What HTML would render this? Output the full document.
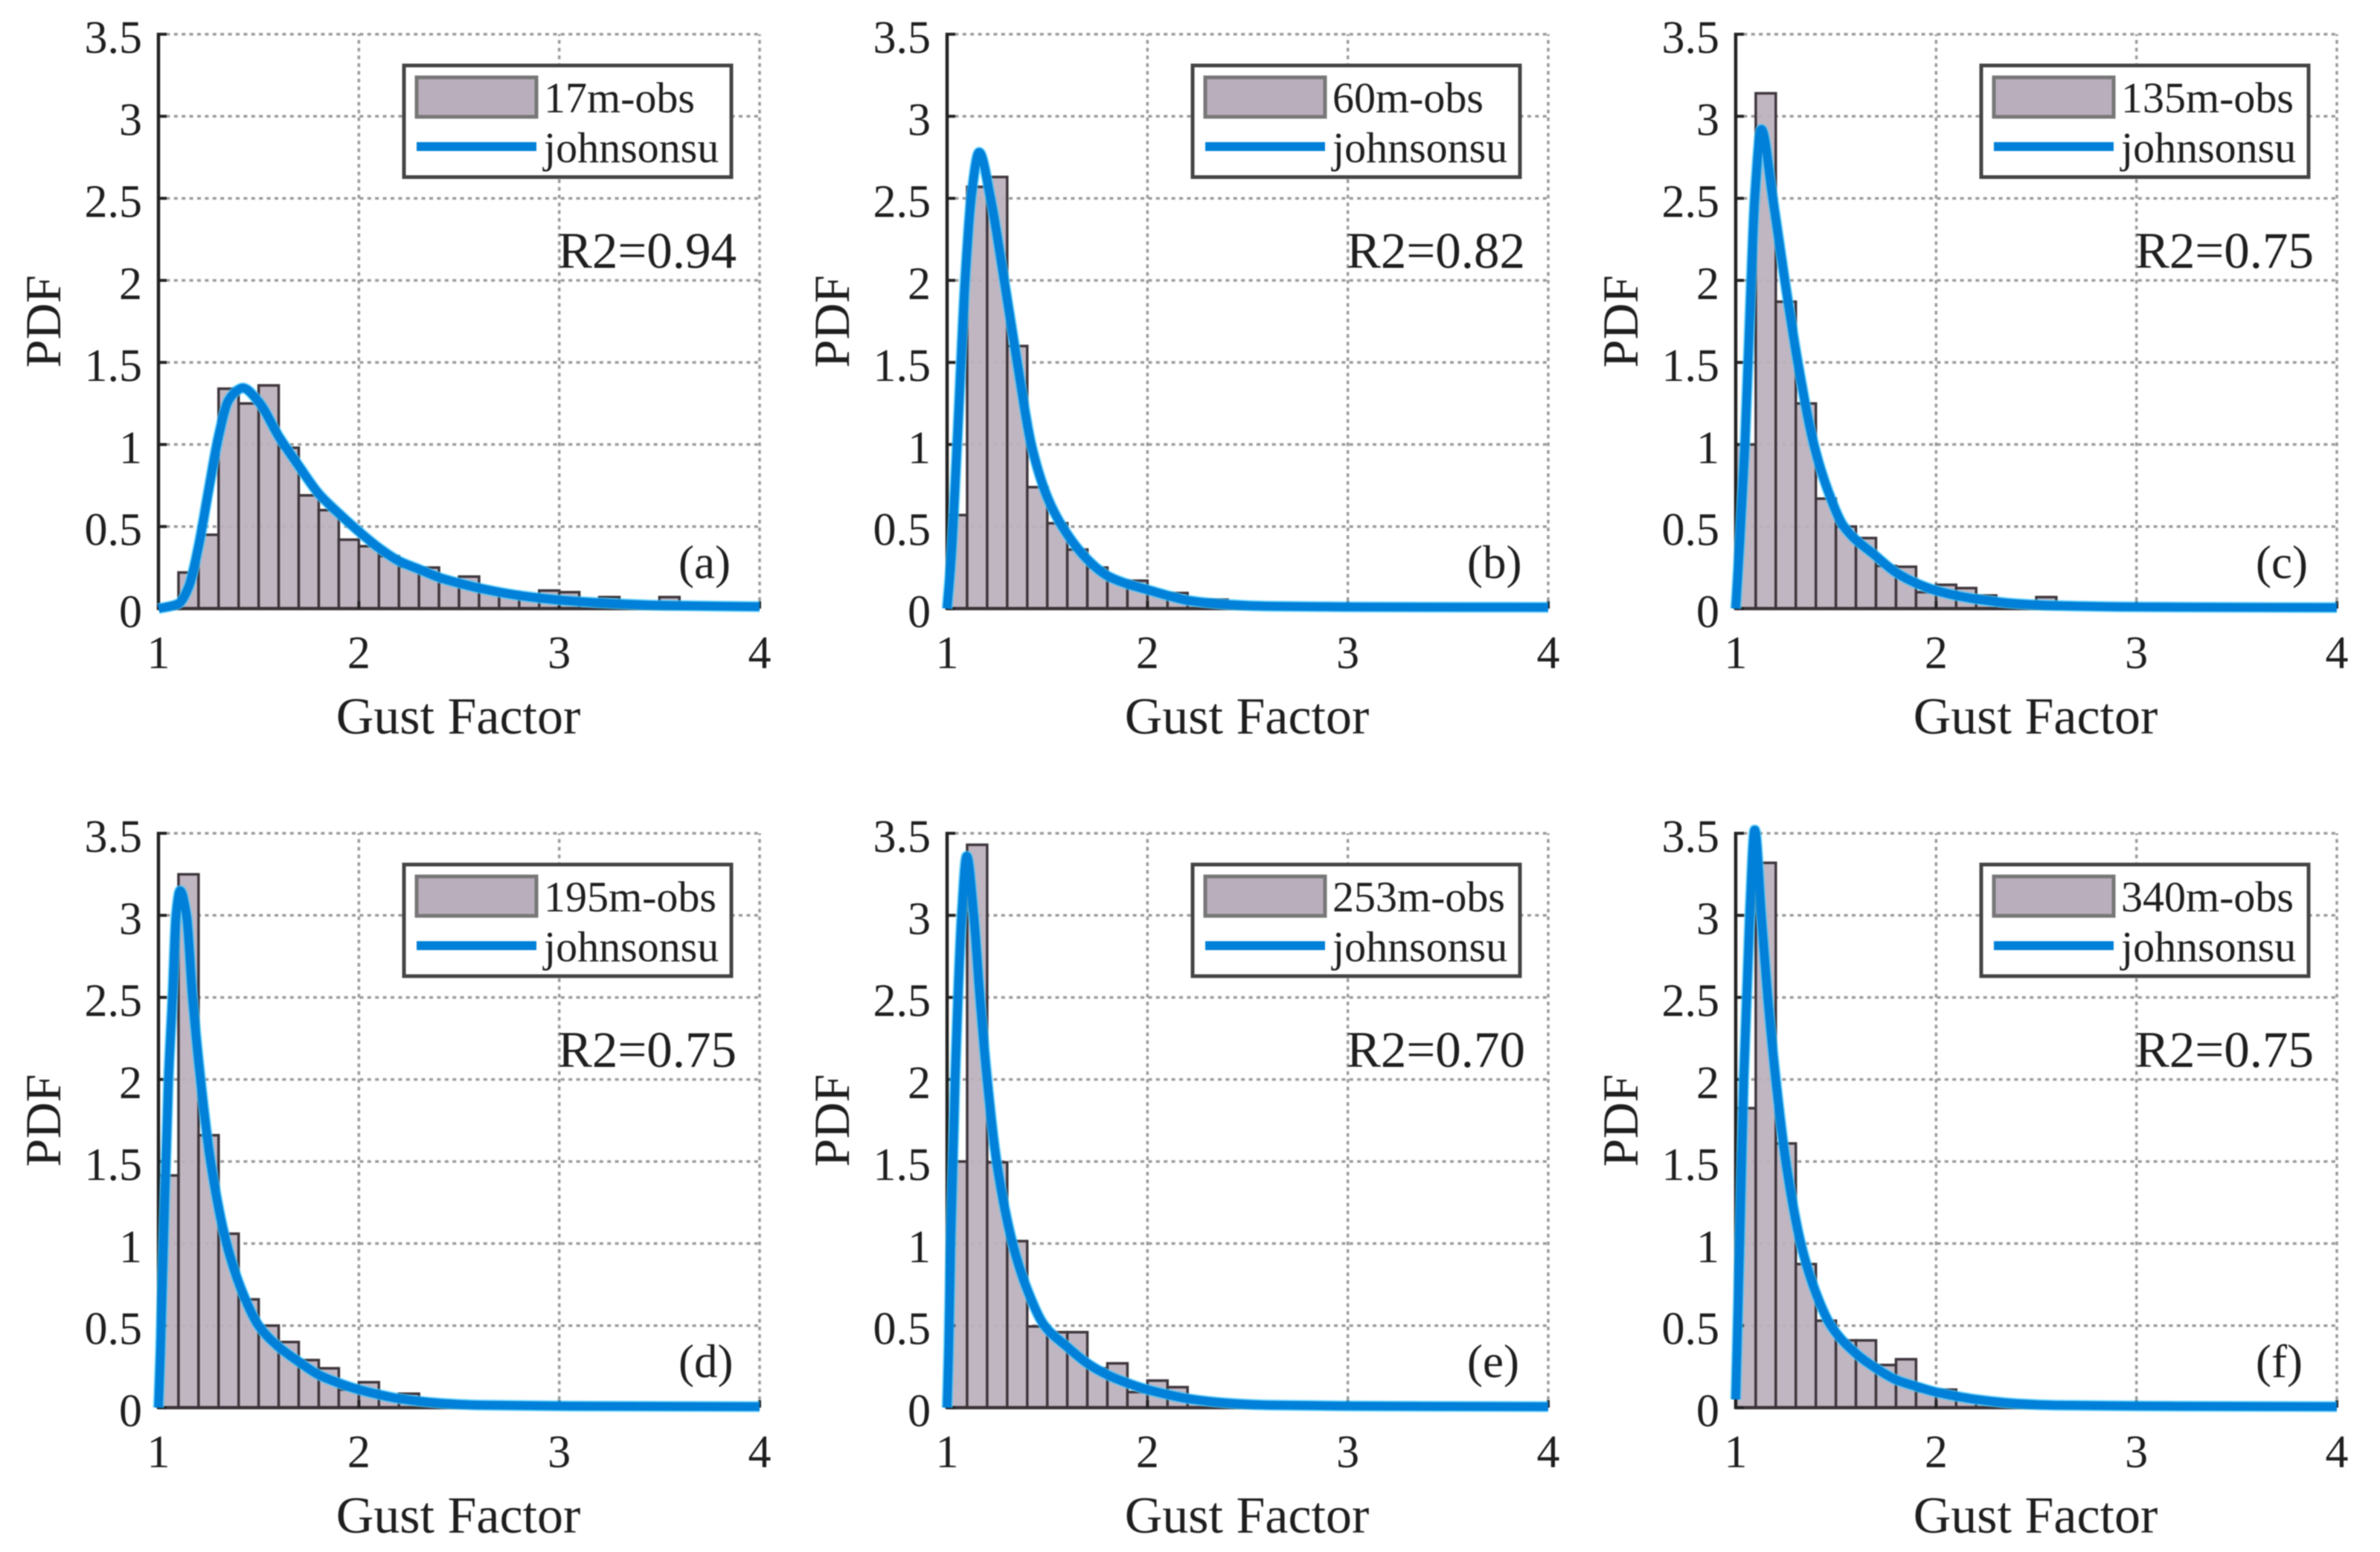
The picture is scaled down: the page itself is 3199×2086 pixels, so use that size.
<!DOCTYPE html>
<html lang="en">
<head>
<meta charset="utf-8">
<title>Gust Factor PDF panels</title>
<style>
html,body{margin:0;padding:0;background:#fff;}
svg{display:block;filter:blur(0.9px);}
text{font-family:"Liberation Serif",serif;fill:#1e1e1e;}
.legend-text{font-size:58px;}
.r2{font-size:69px;text-anchor:end;}
.letter{font-size:63px;}
.xtitle{font-size:70px;text-anchor:middle;}
.ytitle{font-size:68px;text-anchor:middle;}
.tick-label{font-size:62px;}
</style>
</head>
<body>
<svg xmlns="http://www.w3.org/2000/svg" width="3199" height="2086" viewBox="0 0 3199 2086">
<rect width="3199" height="2086" fill="#fff"/>

<g id="panel-a" transform="translate(213,46)">
  <g class="marks"></g>
  <g>
    <rect x="330" y="42" width="440" height="150" fill="#fff" stroke="#444" stroke-width="5"/>
    <rect x="347" y="58" width="161" height="53" fill="#b9aebb" stroke="#777" stroke-width="5"/>
    <line x1="347" x2="508" y1="151" y2="151" stroke="#0080d8" stroke-width="12"/>
    <text class="legend-text" x="518" y="105">17m-obs</text>
    <text class="legend-text" x="518" y="172">johnsonsu</text>
  </g>
  <text class="r2" x="777" y="314">R2=0.94</text>
  <text class="letter" x="699" y="731">(a)</text>
  <text class="xtitle" x="403" y="940">Gust Factor</text>
  <text class="ytitle" transform="translate(-132,386) rotate(-90)">PDF</text>
</g>

<g id="panel-b" transform="translate(1273,46)">
  <g class="marks"></g>
  <g>
    <rect x="330" y="42" width="440" height="150" fill="#fff" stroke="#444" stroke-width="5"/>
    <rect x="347" y="58" width="161" height="53" fill="#b9aebb" stroke="#777" stroke-width="5"/>
    <line x1="347" x2="508" y1="151" y2="151" stroke="#0080d8" stroke-width="12"/>
    <text class="legend-text" x="518" y="105">60m-obs</text>
    <text class="legend-text" x="518" y="172">johnsonsu</text>
  </g>
  <text class="r2" x="777" y="314">R2=0.82</text>
  <text class="letter" x="699" y="731">(b)</text>
  <text class="xtitle" x="403" y="940">Gust Factor</text>
  <text class="ytitle" transform="translate(-132,386) rotate(-90)">PDF</text>
</g>

<g id="panel-c" transform="translate(2333,46)">
  <g class="marks"></g>
  <g>
    <rect x="330" y="42" width="440" height="150" fill="#fff" stroke="#444" stroke-width="5"/>
    <rect x="347" y="58" width="161" height="53" fill="#b9aebb" stroke="#777" stroke-width="5"/>
    <line x1="347" x2="508" y1="151" y2="151" stroke="#0080d8" stroke-width="12"/>
    <text class="legend-text" x="518" y="105">135m-obs</text>
    <text class="legend-text" x="518" y="172">johnsonsu</text>
  </g>
  <text class="r2" x="777" y="314">R2=0.75</text>
  <text class="letter" x="699" y="731">(c)</text>
  <text class="xtitle" x="403" y="940">Gust Factor</text>
  <text class="ytitle" transform="translate(-132,386) rotate(-90)">PDF</text>
</g>

<g id="panel-d" transform="translate(213,1120)">
  <g class="marks"></g>
  <g>
    <rect x="330" y="42" width="440" height="150" fill="#fff" stroke="#444" stroke-width="5"/>
    <rect x="347" y="58" width="161" height="53" fill="#b9aebb" stroke="#777" stroke-width="5"/>
    <line x1="347" x2="508" y1="151" y2="151" stroke="#0080d8" stroke-width="12"/>
    <text class="legend-text" x="518" y="105">195m-obs</text>
    <text class="legend-text" x="518" y="172">johnsonsu</text>
  </g>
  <text class="r2" x="777" y="314">R2=0.75</text>
  <text class="letter" x="699" y="731">(d)</text>
  <text class="xtitle" x="403" y="940">Gust Factor</text>
  <text class="ytitle" transform="translate(-132,386) rotate(-90)">PDF</text>
</g>

<g id="panel-e" transform="translate(1273,1120)">
  <g class="marks"></g>
  <g>
    <rect x="330" y="42" width="440" height="150" fill="#fff" stroke="#444" stroke-width="5"/>
    <rect x="347" y="58" width="161" height="53" fill="#b9aebb" stroke="#777" stroke-width="5"/>
    <line x1="347" x2="508" y1="151" y2="151" stroke="#0080d8" stroke-width="12"/>
    <text class="legend-text" x="518" y="105">253m-obs</text>
    <text class="legend-text" x="518" y="172">johnsonsu</text>
  </g>
  <text class="r2" x="777" y="314">R2=0.70</text>
  <text class="letter" x="699" y="731">(e)</text>
  <text class="xtitle" x="403" y="940">Gust Factor</text>
  <text class="ytitle" transform="translate(-132,386) rotate(-90)">PDF</text>
</g>

<g id="panel-f" transform="translate(2333,1120)">
  <g class="marks"></g>
  <g>
    <rect x="330" y="42" width="440" height="150" fill="#fff" stroke="#444" stroke-width="5"/>
    <rect x="347" y="58" width="161" height="53" fill="#b9aebb" stroke="#777" stroke-width="5"/>
    <line x1="347" x2="508" y1="151" y2="151" stroke="#0080d8" stroke-width="12"/>
    <text class="legend-text" x="518" y="105">340m-obs</text>
    <text class="legend-text" x="518" y="172">johnsonsu</text>
  </g>
  <text class="r2" x="777" y="314">R2=0.75</text>
  <text class="letter" x="699" y="731">(f)</text>
  <text class="xtitle" x="403" y="940">Gust Factor</text>
  <text class="ytitle" transform="translate(-132,386) rotate(-90)">PDF</text>
</g>
</svg>

<script>
var xTicks = [1, 2, 3, 4];
var xTickLabels = ["1", "2", "3", "4"];
var yTicks = [0, 0.5, 1, 1.5, 2, 2.5, 3, 3.5];
var yTickLabels = ["0", "0.5", "1", "1.5", "2", "2.5", "3", "3.5"];

var binLefts = [1.0,1.1,1.2,1.3,1.4,1.5,1.6,1.7,1.8,1.9,2.0,2.1,2.2,2.3,2.4,2.5,2.6,2.7,2.8,2.9,3.0,3.1,3.2,3.3,3.4,3.5,3.6,3.7];
var binWidth = 0.1;

var binsA = [0.01,0.22,0.45,1.34,1.25,1.36,0.98,0.69,0.60,0.42,0.38,0.32,0.255,0.25,0.165,0.195,0.11,0.10,0.085,0.11,0.10,0.05,0.07,0.03,0.03,0.07,0.02,0.02];
var binsB = [0.57,2.57,2.63,1.60,0.74,0.52,0.36,0.25,0.17,0.17,0.09,0.095,0.05,0.055,0.02,0.01];
var binsC = [1.0,3.14,1.87,1.25,0.67,0.50,0.43,0.26,0.255,0.10,0.145,0.125,0.08,0.04,0.035,0.07,0.02,0.01];
var binsD = [1.415,3.25,1.66,1.06,0.66,0.50,0.40,0.29,0.24,0.11,0.155,0.065,0.085,0.02,0.01];
var binsE = [1.5,3.43,1.495,1.015,0.495,0.46,0.46,0.24,0.27,0.095,0.165,0.125,0.05,0.03,0.015];
var binsF = [1.825,3.32,1.61,0.875,0.53,0.41,0.41,0.26,0.295,0.10,0.11,0.05,0.03,0.015];

var curveXA = [1.0,1.1,1.15,1.2,1.25,1.3,1.35,1.4,1.42,1.5,1.6,1.7,1.8,1.9,2.0,2.1,2.2,2.3,2.4,2.5,2.6,2.8,3.0,3.2,3.5,4.0];
var curveYA = [0.0,0.03,0.13,0.38,0.72,1.05,1.27,1.335,1.345,1.26,1.05,0.87,0.70,0.58,0.47,0.37,0.29,0.24,0.19,0.155,0.125,0.08,0.052,0.035,0.02,0.012];
var curveXB = [1.0,1.02,1.05,1.09,1.12,1.16,1.217,1.285,1.35,1.42,1.5,1.575,1.7,1.8,1.9,2.0,2.1,2.2,2.4,2.6,3.0,4.0];
var curveYB = [0.0,0.3,1.0,2.0,2.5,2.78,2.5,2.0,1.5,1.0,0.68,0.5,0.30,0.20,0.15,0.115,0.08,0.05,0.025,0.015,0.01,0.008];
var curveXC = [1.0,1.02,1.046,1.077,1.095,1.128,1.185,1.245,1.31,1.39,1.46,1.54,1.7,1.8,1.9,2.0,2.1,2.2,2.4,2.6,3.0,4.0];
var curveYC = [0.0,0.4,1.0,2.0,2.5,2.92,2.5,2.0,1.5,1.0,0.72,0.5,0.32,0.22,0.155,0.11,0.08,0.058,0.03,0.018,0.01,0.006];
var curveXD = [1.0,1.01,1.025,1.05,1.07,1.088,1.108,1.14,1.17,1.21,1.26,1.34,1.42,1.5,1.6,1.7,1.8,1.9,2.0,2.1,2.2,2.4,2.6,3.0,4.0];
var curveYD = [0.0,0.35,1.0,2.0,2.5,3.0,3.15,3.0,2.5,2.0,1.5,1.0,0.7,0.5,0.37,0.28,0.20,0.15,0.11,0.08,0.055,0.028,0.016,0.01,0.006];
var curveXE = [1.0,1.008,1.018,1.04,1.073,1.098,1.133,1.164,1.2,1.247,1.327,1.4,1.486,1.6,1.7,1.8,1.9,2.0,2.1,2.2,2.4,2.6,3.0,4.0];
var curveYE = [0.0,0.35,1.0,2.0,3.0,3.36,3.0,2.5,2.0,1.5,1.0,0.72,0.5,0.37,0.27,0.20,0.15,0.11,0.08,0.055,0.028,0.016,0.01,0.006];
var curveXF = [1.0,1.02,1.04,1.07,1.095,1.128,1.16,1.2,1.25,1.325,1.4,1.475,1.6,1.7,1.8,1.9,2.0,2.1,2.2,2.4,2.6,3.0,4.0];
var curveYF = [0.05,1.0,2.0,3.0,3.52,3.0,2.5,2.0,1.5,1.0,0.7,0.5,0.33,0.24,0.17,0.13,0.095,0.07,0.05,0.025,0.015,0.01,0.006];

var plotWidth = 808;
var plotHeight = 772;
var xMin = 1, xMax = 4, yMin = 0, yMax = 3.5;

function xScale(v) { return (v - xMin) / (xMax - xMin) * plotWidth; }
function yScale(v) { return plotHeight - (v - yMin) / (yMax - yMin) * plotHeight; }

var NS = "http://www.w3.org/2000/svg";
function mk(parent, tag, attrs) {
  var el = document.createElementNS(NS, tag);
  for (var k in attrs) el.setAttribute(k, attrs[k]);
  parent.appendChild(el);
  return el;
}

/* Monotone cubic path through the data points, so the curve never overshoots them. */
function curvePath(xs, ys) {
  var n = xs.length, px = [], py = [], m = [], d = [], i;
  for (i = 0; i < n; i++) { px.push(xScale(xs[i])); py.push(yScale(ys[i])); }
  for (i = 0; i < n - 1; i++) d.push((py[i + 1] - py[i]) / (px[i + 1] - px[i]));
  m[0] = d[0]; m[n - 1] = d[n - 2];
  for (i = 1; i < n - 1; i++) {
    if (d[i - 1] * d[i] <= 0) { m[i] = 0; }
    else {
      var h0 = px[i] - px[i - 1], h1 = px[i + 1] - px[i];
      m[i] = 3 * (h0 + h1) / ((2 * h1 + h0) / d[i - 1] + (h1 + 2 * h0) / d[i]);
    }
  }
  var s = "M" + px[0] + " " + py[0];
  for (i = 0; i < n - 1; i++) {
    var h = (px[i + 1] - px[i]) / 3;
    s += "C" + (px[i] + h) + " " + (py[i] + m[i] * h) + " " + (px[i + 1] - h) + " " + (py[i + 1] - m[i + 1] * h) + " " + px[i + 1] + " " + py[i + 1];
  }
  return s;
}

function drawPanel(id, bins, curveX, curveY) {
  var root = document.querySelector("#" + id + " .marks");
  var i, el;

  var gridStyle = { stroke: "#9a9a9a", "stroke-width": 3.5, "stroke-dasharray": "5 5.4" };
  for (i = 0; i < yTicks.length; i++) {
    if (yTicks[i] === 0) continue;
    el = mk(root, "line", { x1: xScale(xMin), x2: xScale(xMax), y1: yScale(yTicks[i]), y2: yScale(yTicks[i]), stroke: gridStyle.stroke, "stroke-width": gridStyle["stroke-width"], "stroke-dasharray": gridStyle["stroke-dasharray"] });
    
    
  }
  for (i = 0; i < xTicks.length; i++) {
    if (xTicks[i] === xMin) continue;
    el = mk(root, "line", { x1: xScale(xTicks[i]), x2: xScale(xTicks[i]), y1: yScale(yMin), y2: yScale(yMax), stroke: gridStyle.stroke, "stroke-width": gridStyle["stroke-width"], "stroke-dasharray": gridStyle["stroke-dasharray"] });
    
    
  }

  for (i = 0; i < bins.length; i++) {
    el = mk(root, "rect", { x: xScale(binLefts[i]), y: yScale(bins[i]), width: xScale(binLefts[i] + binWidth) - xScale(binLefts[i]), height: yScale(0) - yScale(bins[i]), fill: "#bbb0bc", "fill-opacity": 0.93, stroke: "#3e363c", "stroke-width": 3.5 });
    
    
  }

  el = mk(root, "line", { x1: xScale(xMin), x2: xScale(xMin), y1: yScale(yMin) + 2, y2: yScale(yMax) - 2, stroke: "#222", "stroke-width": 4.5 });
  
  
  el = mk(root, "line", { x1: xScale(xMin), x2: xScale(xMax), y1: yScale(yMin), y2: yScale(yMin), stroke: "#3a3338", "stroke-width": 4.5 });
  
  

  for (i = 0; i < yTicks.length; i++) {
    el = mk(root, "line", { x1: xScale(xMin), x2: xScale(xMin) + 11, y1: yScale(yTicks[i]), y2: yScale(yTicks[i]), stroke: "#222", "stroke-width": 4 });
    
    
    el = mk(root, "text", { x: xScale(xMin) - 22, y: yScale(yTicks[i]) + 25, "text-anchor": "end", "class": "tick-label" });
    
    
    el.textContent = yTickLabels[i];
  }
  for (i = 0; i < xTicks.length; i++) {
    el = mk(root, "line", { x1: xScale(xTicks[i]), x2: xScale(xTicks[i]), y1: yScale(yMin), y2: yScale(yMin) - 10, stroke: "#222", "stroke-width": 4 });
    
    
    el = mk(root, "text", { x: xScale(xTicks[i]), y: yScale(yMin) + 80, "text-anchor": "middle", "class": "tick-label" });
    
    
    el.textContent = xTickLabels[i];
  }

  var d = curvePath(curveX, curveY);
  el = mk(root, "path", { d: d, fill: "none", stroke: "#3cc4ff", "stroke-width": 15, "stroke-opacity": 0.7 });
  
  
  el = mk(root, "path", { d: d, fill: "none", stroke: "#0080d8", "stroke-width": 11.5 });
  
  
}

drawPanel("panel-a", binsA, curveXA, curveYA);
drawPanel("panel-b", binsB, curveXB, curveYB);
drawPanel("panel-c", binsC, curveXC, curveYC);
drawPanel("panel-d", binsD, curveXD, curveYD);
drawPanel("panel-e", binsE, curveXE, curveYE);
drawPanel("panel-f", binsF, curveXF, curveYF);
</script>
</body>
</html>
